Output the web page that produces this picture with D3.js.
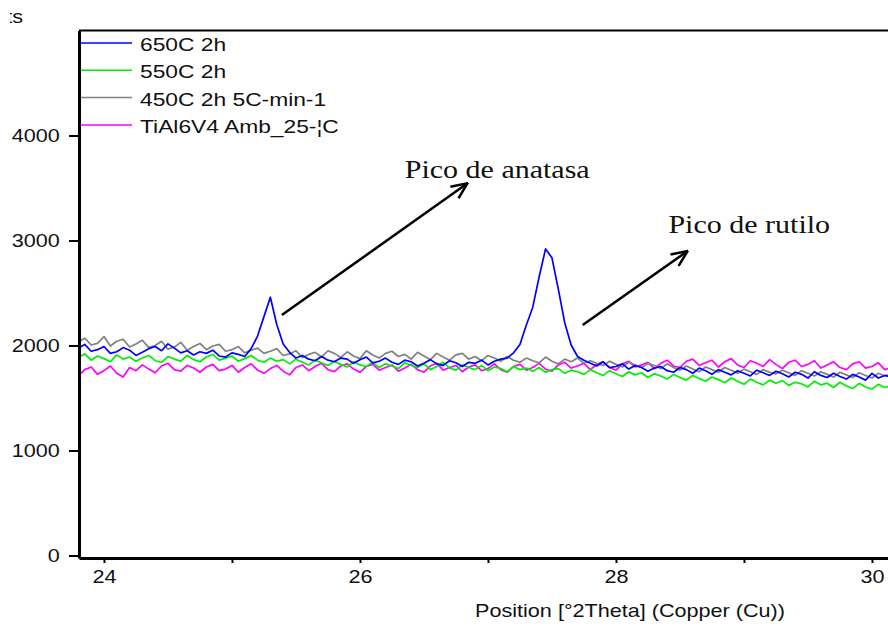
<!DOCTYPE html>
<html>
<head>
<meta charset="utf-8">
<script src="https://cdn.jsdelivr.net/npm/d3@7"></script>
<style>
  body { margin: 0; background: #fff; }
  svg { display: block; }
</style>
</head>
<body>
<div class="canvas"></div>
<script>
// scan: 2theta start and step (deg)
const scanStart = 23.80;
const scanStep = 0.05;

const seriesNames = ['650C 2h', '550C 2h', '450C 2h 5C-min-1', 'TiAl6V4 Amb_25-\u00a6C'];
const seriesColors = ['#0000ff', '#00ee00', '#808080', '#ff00ff'];

// counts
const blue650 = [
  1975,2010,1945,1960,1990,1925,1940,1980,1955,1905,
  1935,1970,1990,1950,2015,1975,1930,1950,1910,1940,
  1925,1955,1900,1890,1930,1915,1895,1970,2090,2275,
  2460,2200,2015,1935,1880,1905,1870,1855,1895,1860,
  1845,1880,1870,1830,1865,1890,1835,1850,1880,1840,
  1820,1860,1845,1805,1830,1865,1825,1810,1855,1835,
  1800,1840,1830,1860,1815,1850,1870,1880,1930,2010,
  2195,2365,2655,2920,2835,2535,2215,2005,1895,1860,
  1830,1805,1845,1790,1800,1825,1775,1810,1790,1755,
  1785,1800,1760,1745,1790,1770,1735,1785,1760,1725,
  1770,1745,1720,1760,1735,1710,1765,1740,1715,1755,
  1730,1700,1745,1725,1690,1750,1715,1695,1735,1705,
  1680,1725,1700,1670,1735,1690,1715,1700
];
const green550 = [
  1885,1920,1860,1900,1875,1845,1910,1870,1890,1850,
  1880,1905,1855,1840,1895,1870,1850,1905,1865,1845,
  1890,1915,1860,1880,1900,1850,1875,1905,1860,1840,
  1880,1850,1865,1825,1870,1840,1815,1860,1835,1810,
  1850,1820,1795,1845,1815,1800,1840,1790,1825,1805,
  1780,1835,1810,1790,1825,1770,1800,1840,1785,1765,
  1815,1790,1770,1810,1760,1795,1780,1750,1800,1770,
  1785,1755,1790,1745,1770,1780,1735,1765,1750,1725,
  1770,1740,1715,1760,1730,1705,1750,1720,1740,1695,
  1730,1710,1680,1725,1695,1670,1715,1685,1660,1700,
  1675,1645,1690,1660,1630,1680,1650,1625,1670,1640,
  1665,1620,1650,1635,1605,1660,1625,1640,1600,1650,
  1615,1590,1640,1605,1585,1630,1600,1615
];
const gray450 = [
  2035,2070,2005,2020,2085,1995,2040,2060,1985,2015,
  2050,1980,2000,2040,1965,1985,2030,1955,1990,2020,
  1960,1995,2010,1945,1960,1990,1930,1955,1975,1925,
  1945,1970,1905,1920,1950,1885,1915,1935,1890,1950,
  1925,1885,1940,1900,1875,1950,1910,1880,1925,1945,
  1895,1915,1870,1935,1900,1865,1925,1890,1860,1910,
  1925,1870,1895,1855,1905,1880,1850,1895,1860,1840,
  1880,1855,1835,1890,1850,1825,1870,1845,1880,1830,
  1855,1830,1810,1850,1820,1795,1840,1815,1790,1830,
  1810,1780,1825,1790,1765,1805,1775,1750,1795,1770,
  1745,1790,1765,1735,1775,1750,1725,1770,1745,1730,
  1765,1740,1715,1760,1735,1710,1750,1725,1700,1745,
  1720,1695,1740,1715,1690,1735,1710,1725
];
const magentaAmb = [
  1710,1770,1795,1725,1760,1805,1735,1700,1790,1760,
  1815,1775,1740,1805,1830,1770,1755,1810,1785,1745,
  1795,1820,1760,1775,1810,1745,1790,1825,1765,1735,
  1780,1810,1755,1720,1790,1815,1760,1800,1830,1770,
  1750,1805,1825,1775,1745,1800,1820,1765,1790,1815,
  1755,1785,1820,1770,1745,1805,1830,1765,1790,1810,
  1750,1795,1815,1760,1780,1825,1770,1745,1800,1820,
  1765,1790,1830,1775,1755,1815,1840,1785,1805,1830,
  1770,1820,1845,1790,1765,1825,1850,1795,1815,1840,
  1780,1830,1860,1805,1790,1850,1870,1810,1835,1860,
  1795,1845,1875,1815,1790,1855,1830,1800,1865,1820,
  1780,1840,1860,1800,1820,1855,1785,1815,1845,1790,
  1770,1825,1845,1785,1800,1835,1770,1790
];

const yTicks = [0, 1000, 2000, 3000, 4000];
const xTicks = [24, 25, 26, 27, 28, 29, 30];
const xLabelTicks = [24, 26, 28, 30];

const seriesValues = [blue650, green550, gray450, magentaAmb];
// peak annotations [x1, y1, x2, y2] in data units, and text anchors
const arrows = [[25.39, 2290, 26.84, 3545], [27.74, 2195, 28.56, 2900]];
const notes = [['Pico de anatasa', 26.35, 3595], ['Pico de rutilo', 28.41, 3071]];

const W = 888, H = 631;
const stretch = 1.2; // the original picture is stretched sideways
const sans = '"Liberation Sans", Arial, sans-serif';

const svg = d3.select('.canvas')
  .append('svg')
  .attr('width', W)
  .attr('height', H);

const x = d3.scaleLinear().domain([23.805, 30.2]).range([79, 79 + 6.395 * 128]);
const y = d3.scaleLinear().domain([-24, 5000]).range([558, 30.5]);

const defs = svg.append('defs');
defs.append('clipPath').attr('id', 'plotclip')
  .append('rect')
  .attr('x', x(23.805)).attr('y', y(5000))
  .attr('width', x(30.2) - x(23.805)).attr('height', y(-24) - y(5000));
// the y title is cut in the original export
defs.append('clipPath').attr('id', 'titleclip')
  .append('rect')
  .attr('x', 10).attr('y', 0).attr('width', 40).attr('height', 30);

// series, drawn bottom to top
const line = d3.line()
  .x((d, i) => x(scanStart + i * scanStep))
  .y(d => y(d));

const order = [3, 2, 1, 0];
svg.append('g')
  .attr('clip-path', 'url(#plotclip)')
  .selectAll('path')
  .data(order)
  .join('path')
  .attr('d', k => line(seriesValues[k]))
  .attr('fill', 'none')
  .attr('stroke', k => seriesColors[k])
  .attr('stroke-width', 1.7)
  .attr('stroke-linejoin', 'round');

// top border
svg.append('line')
  .attr('x1', x(23.805)).attr('x2', W)
  .attr('y1', y(5000)).attr('y2', y(5000))
  .attr('stroke', '#000').attr('stroke-width', 2);

// axes
const yAxis = d3.axisLeft(y)
  .tickValues(yTicks)
  .tickSizeInner(10)
  .tickSizeOuter(0)
  .tickPadding(6)
  .tickFormat(d3.format('d'));
const yAxisGroup = svg.append('g')
  .attr('transform', `translate(${x(23.805)},0)`)
  .call(yAxis);

const xAxis = d3.axisBottom(x)
  .tickValues(xTicks)
  .tickSizeInner(5)
  .tickSizeOuter(0)
  .tickPadding(7)
  .tickFormat(d => xLabelTicks.includes(d) ? d : '');
const xAxisGroup = svg.append('g')
  .attr('transform', `translate(0,${y(-24)})`)
  .call(xAxis);

[xAxisGroup, yAxisGroup].forEach(g => {
  g.select('.domain').attr('stroke', '#000').attr('stroke-width', 3);
  g.selectAll('.tick line').attr('stroke', '#000').attr('stroke-width', 2);
  g.selectAll('text')
    .attr('fill', '#111')
    .attr('font-family', sans)
    .attr('font-size', 18)
    .attr('transform', `scale(${stretch},1)`);
});

function addText(parent, str, px, py, opts) {
  return parent.append('text')
    .attr('transform', `translate(${px},${py}) scale(${stretch},1)`)
    .attr('text-anchor', opts.anchor || 'start')
    .attr('font-family', opts.family || sans)
    .attr('font-size', opts.size)
    .attr('fill', '#111')
    .text(str);
}

// axis titles
addText(svg, 'Position [\u00b02Theta] (Copper (Cu))', 630, 617, {anchor: 'middle', size: 18});
addText(svg.append('g').attr('clip-path', 'url(#titleclip)'), 'Counts', 23, 23, {anchor: 'end', size: 18});

// legend
const legend = svg.append('g');
seriesNames.forEach((name, i) => {
  const ly = 43 + i * 27.3;
  legend.append('line')
    .attr('x1', 81).attr('x2', 132)
    .attr('y1', ly).attr('y2', ly)
    .attr('stroke', seriesColors[i]).attr('stroke-width', 1.5);
  addText(legend, name, 140, ly + 8, {size: 19});
});

// annotations
defs.append('marker')
  .attr('id', 'arrowhead')
  .attr('viewBox', '0 0 20 20')
  .attr('refX', 19).attr('refY', 10)
  .attr('markerWidth', 20).attr('markerHeight', 20)
  .attr('markerUnits', 'userSpaceOnUse')
  .attr('orient', 'auto')
  .append('path')
  .attr('d', 'M3,3 L19,10 L3,17')
  .attr('fill', 'none')
  .attr('stroke', '#000')
  .attr('stroke-width', 2.5);

svg.selectAll('.arrow')
  .data(arrows)
  .join('line')
  .attr('class', 'arrow')
  .attr('x1', d => x(d[0])).attr('y1', d => y(d[1]))
  .attr('x2', d => x(d[2])).attr('y2', d => y(d[3]))
  .attr('stroke', '#000')
  .attr('stroke-width', 2.5)
  .attr('marker-end', 'url(#arrowhead)');

notes.forEach(n => {
  addText(svg, n[0], x(n[1]), y(n[2]), {size: 25, family: '"Liberation Serif", "Times New Roman", serif'});
});
</script>
</body>
</html>
